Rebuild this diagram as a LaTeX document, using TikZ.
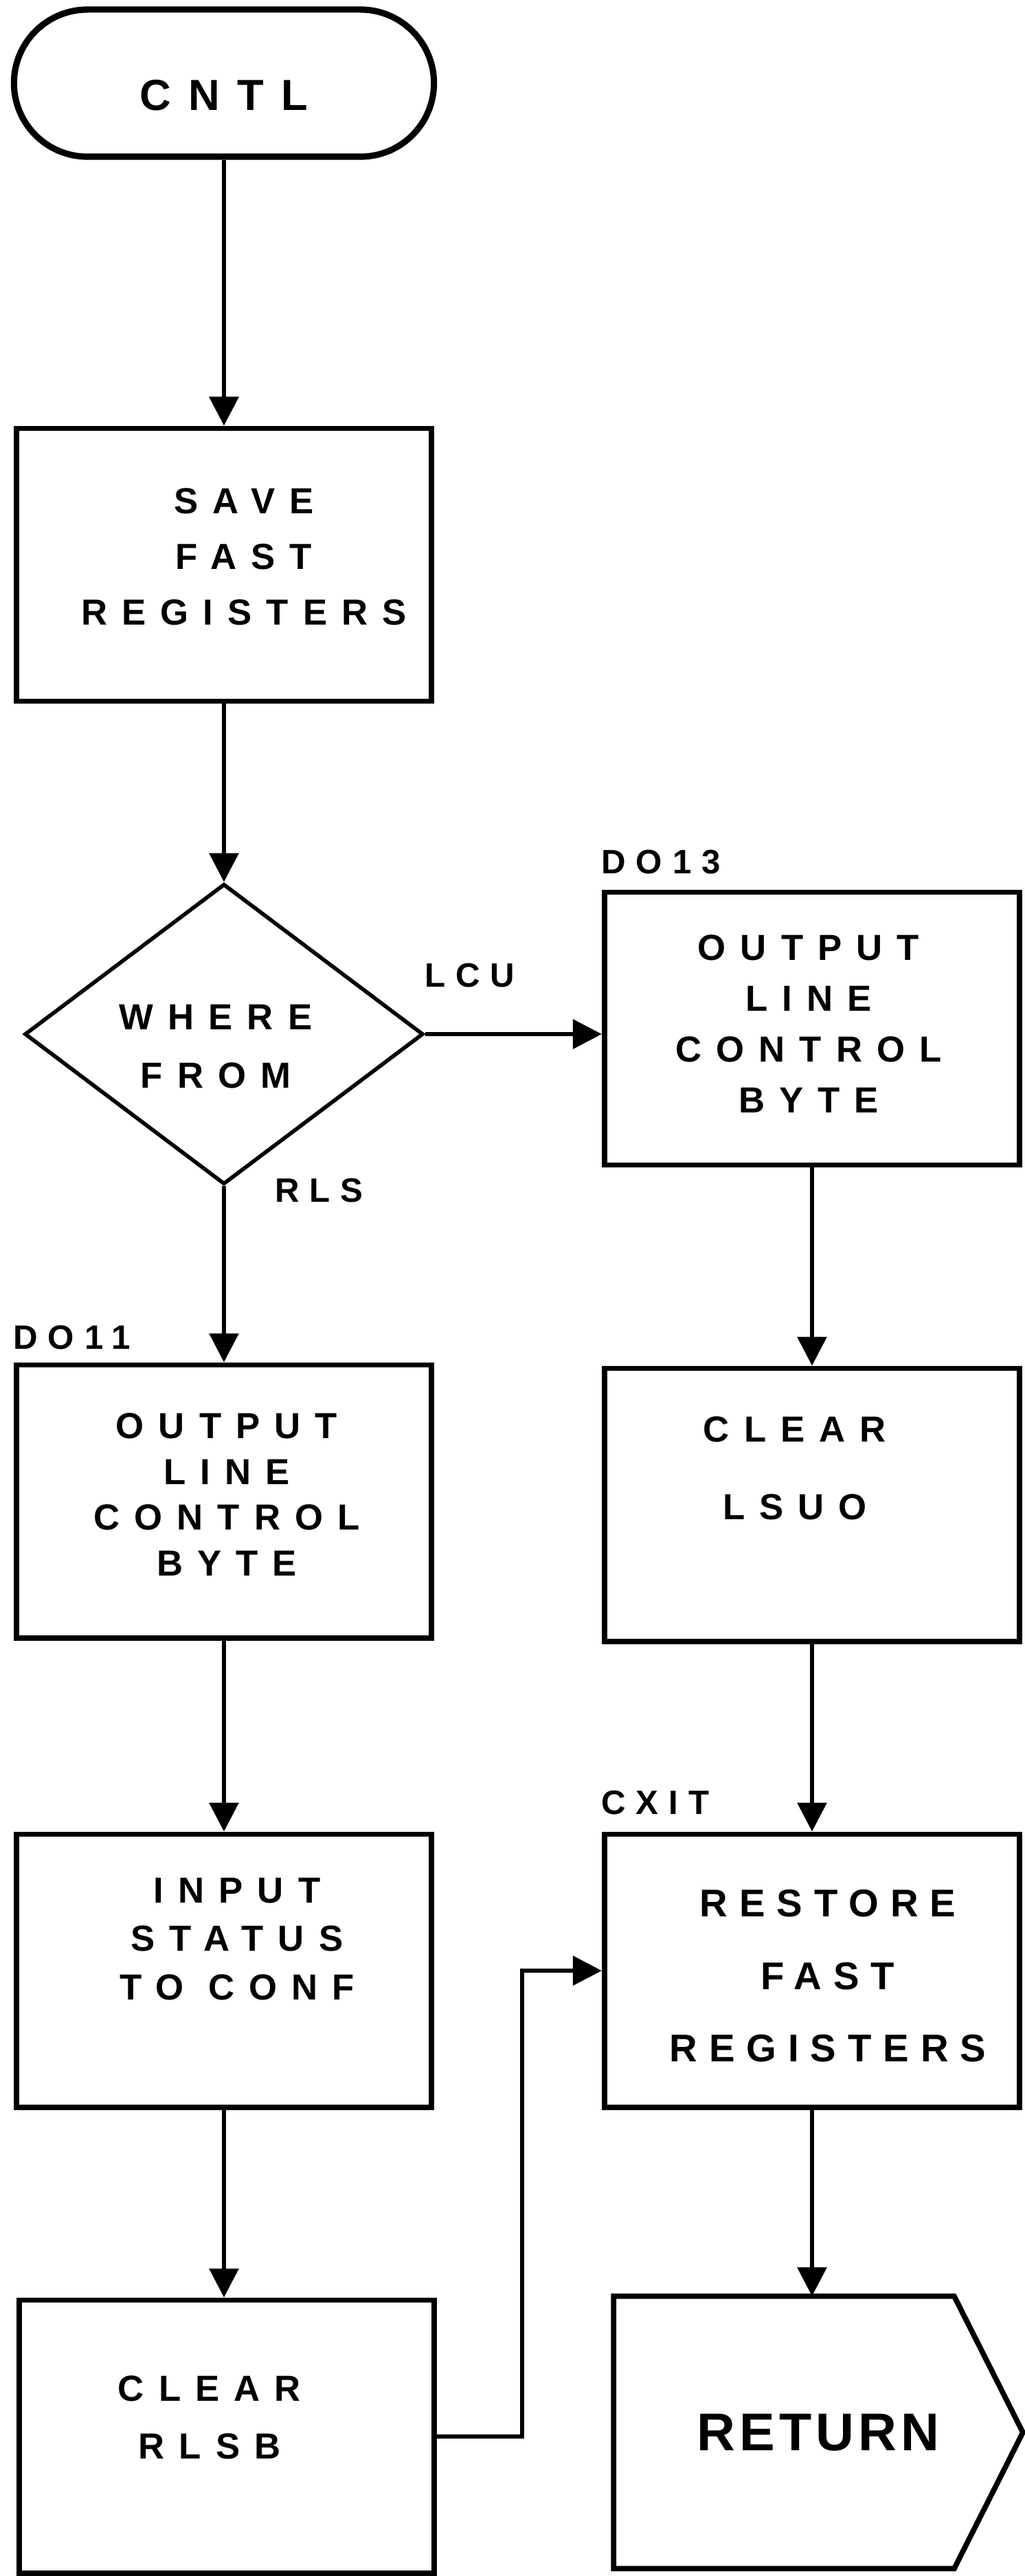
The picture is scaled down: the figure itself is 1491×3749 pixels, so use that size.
\documentclass[tikz,border=0pt]{standalone}
\usepackage{fontspec}
\setmainfont{Liberation Sans}
\newfontfamily\handfont[LetterSpace=40]{Liberation Sans Bold}
\newfontfamily\handfontc[LetterSpace=30]{Liberation Sans Bold}
\newfontfamily\handfontb[LetterSpace=8]{Liberation Sans Bold}
\usetikzlibrary{arrows.meta,shapes.geometric,shapes.misc,calc}
\begin{document}
\begin{tikzpicture}[x=0.01cm, y=-0.01cm,
  box/.style={draw, line width=2.2pt, minimum width=6.04cm, minimum height=3.97cm, inner sep=0pt},
  term/.style={draw, rounded rectangle, line width=2.6pt, minimum width=6.11cm, minimum height=2.14cm, inner sep=0pt},
  decision/.style={draw, diamond, line width=1.6pt, minimum width=5.8cm, minimum height=4.37cm, inner sep=0pt, aspect=1.33},
  txt/.style={align=center, inner sep=0pt, font=\handfont\fontsize{15}{21}\selectfont},
  lbl/.style={anchor=west, inner sep=0pt, font=\handfontc\fontsize{14}{17}\selectfont},
  arr/.style={line width=1.8pt, -{Triangle[length=0.42cm, width=0.42cm]}}
]
\fill[white] (0,0) rectangle (1491,3749);
\useasboundingbox (0,0) rectangle (1491,3749);

% left column
\node[term, text height=0.78cm, text depth=0cm, font=\handfont\fontsize{18}{22}\selectfont] (cntl) at (326,121) {CNTL};
\node[box] (save) at (326,822) {};
\node[txt] (savet) at (355,810) {SAVE\\[2pt]FAST\\[2pt]REGISTERS};
\node[decision] (dia) at (326,1505) {};
\node[txt, font=\handfont\fontsize{15}{24}\selectfont] (diat) at (314,1523) {WHERE\\FROM};
\node[box] (lb2) at (326,2185) {};
\node[txt, font=\handfont\fontsize{15}{19}\selectfont] (lb2t) at (330,2175) {OUTPUT\\LINE\\CONTROL\\BYTE};
\node[box] (lb3) at (326,2868) {};
\node[txt, font=\handfont\fontsize{15}{20}\selectfont] (lb3t) at (345,2822) {INPUT\\STATUS\\TO CONF};
\node[box] (lb4) at (330,3546) {};
\node[txt] (lb4t) at (305,3518) {CLEAR\\[3pt]RLSB};

% right column
\node[box] (rb1) at (1182,1497) {};
\node[txt] (rb1t) at (1177,1490) {OUTPUT\\LINE\\CONTROL\\BYTE};
\node[box] (rb2) at (1182,2190) {};
\node[txt] (rb2t) at (1157,2137) {CLEAR\\[11pt]LSUO};
\node[box] (rb3) at (1182,2868) {};
\node[txt, font=\handfontc\fontsize{16}{20}\selectfont] (rb3t) at (1205,2876) {RESTORE\\[10pt]FAST\\[10pt]REGISTERS};
\node[minimum width=5.94cm, minimum height=3.95cm, inner sep=0pt, font=\handfontb\fontsize{22}{26}\selectfont] (ret) at (1191,3540) {RETURN};
\draw[line width=2.2pt] (ret.north west) -- ($(ret.north east)+(-100,0)$) -- (ret.east) -- ($(ret.south east)+(-100,0)$) -- (ret.south west) -- cycle;

% labels
\node[lbl] (do13) at (875,1255) {DO13};
\node[lbl] (lcu) at (618,1420) {LCU};
\node[lbl] (rls) at (400,1733) {RLS};
\node[lbl] (do11) at (19,1947) {DO11};
\node[lbl] (cxit) at (875,2624) {CXIT};

% connectors
\draw[arr] (cntl.south) -- (save.north);
\draw[arr] (save.south) -- (dia.north);
\draw[arr] (dia.east) -- (dia.east -| rb1.west);
\draw[arr] (dia.south) -- (lb2.north);
\draw[arr] (rb1.south) -- (rb2.north);
\draw[arr] (lb2.south) -- (lb3.north);
\draw[arr] (rb2.south) -- (rb3.north);
\draw[arr] (lb3.south) -- (lb3.south |- lb4.north);
\draw[arr] (rb3.south) -- (rb3.south |- ret.north);
\draw[arr] (lb4.east) -- ++(124,0) |- (rb3.west);
\end{tikzpicture}
\end{document}
